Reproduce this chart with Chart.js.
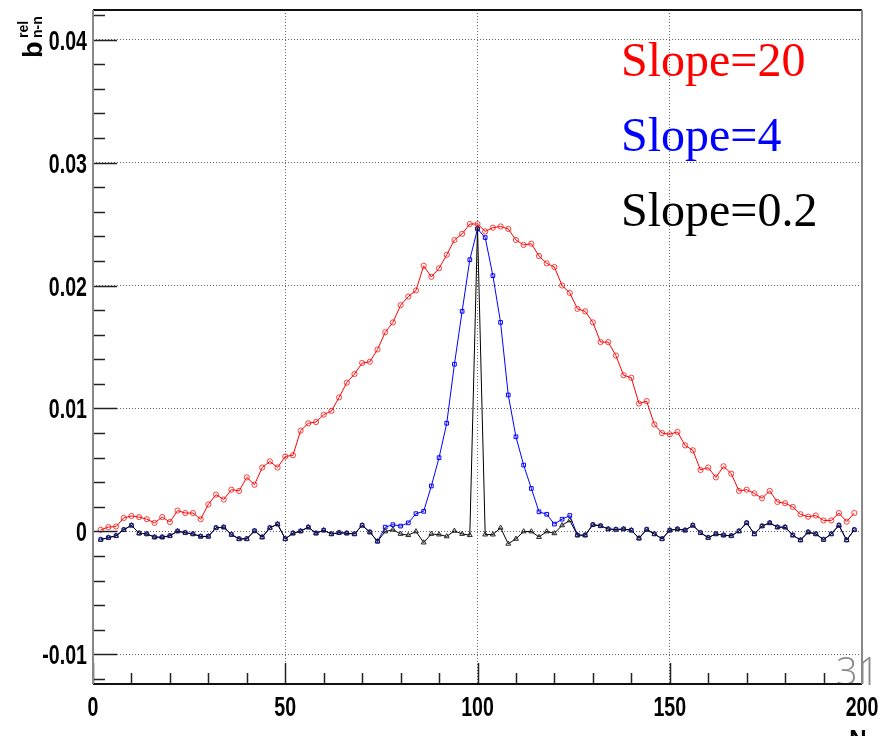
<!DOCTYPE html>
<html>
<head>
<meta charset="utf-8">
<script src="https://cdn.jsdelivr.net/npm/chart.js@4.4.1/dist/chart.umd.min.js"></script>
<style>
html, body { margin: 0; padding: 0; background: #fff; }
#chart { display: block; }
</style>
</head>
<body>
<canvas id="chart" width="887" height="736"></canvas>
<script>
// N values (every 2)
const nValues = [
    2, 4, 6, 8, 10, 12, 14, 16, 18, 20,
    22, 24, 26, 28, 30, 32, 34, 36, 38, 40,
    42, 44, 46, 48, 50, 52, 54, 56, 58, 60,
    62, 64, 66, 68, 70, 72, 74, 76, 78, 80,
    82, 84, 86, 88, 90, 92, 94, 96, 98, 100,
    102, 104, 106, 108, 110, 112, 114, 116, 118, 120,
    122, 124, 126, 128, 130, 132, 134, 136, 138, 140,
    142, 144, 146, 148, 150, 152, 154, 156, 158, 160,
    162, 164, 166, 168, 170, 172, 174, 176, 178, 180,
    182, 184, 186, 188, 190, 192, 194, 196, 198
];

// Slope=20
const slope20 = [
    0.00014, 0.00036, 0.0004, 0.0011, 0.00126, 0.00117, 0.001, 0.0007, 0.00117, 0.00077,
    0.0017, 0.0015, 0.0015, 0.001, 0.0022, 0.003, 0.0026, 0.0034, 0.0033, 0.0044,
    0.0038, 0.0052, 0.0057, 0.0052, 0.0061, 0.0062, 0.0082, 0.0088, 0.0089, 0.0095,
    0.0098, 0.0109, 0.0121, 0.0128, 0.0137, 0.0138, 0.0148, 0.0162, 0.017, 0.0184,
    0.0191, 0.0196, 0.0216, 0.0207, 0.0214, 0.0225, 0.0237, 0.0242, 0.025, 0.025,
    0.0244, 0.0247, 0.0248, 0.0246, 0.0237, 0.0233, 0.0234, 0.0224, 0.0218, 0.0215,
    0.02, 0.0194, 0.0181, 0.0179, 0.017, 0.0154, 0.0154, 0.0143, 0.0127, 0.0125,
    0.0104, 0.0106, 0.0087, 0.008, 0.0079, 0.0081, 0.007, 0.0066, 0.005, 0.0052,
    0.0044, 0.0053, 0.0047, 0.0033, 0.0034, 0.0031, 0.0027, 0.0033, 0.0024, 0.0023,
    0.002, 0.0014, 0.0012, 0.0013, 0.0009, 0.0009, 0.0015, 0.0008, 0.0015
];

// Slope=4
const slope4 = [
    -0.00066, -0.0005, -0.00035, 0.00014, 0.0005, -0.00014, -0.0002, -0.00046, -0.00046, -0.00035,
    0.00003, -0.0001, -0.0002, -0.0004, -0.0004, 0.0003, 0.00035, -0.00025, -0.0006, -0.0006,
    0.00005, -0.00046, 0.0003, 0.0006, -0.0006, -0.00014, 0.00003, 0.00035, -0.00014, 0.0001,
    -0.0002, -0.0001, -0.00014, -0.0002, 0.0005, -0.00005, -0.0008, 0.00035, 0.00055, 0.00044,
    0.0007, 0.00145, 0.00164, 0.0037, 0.006, 0.0088, 0.0136, 0.0179, 0.0221, 0.0246,
    0.0239, 0.0208, 0.017, 0.0111, 0.0077, 0.0054, 0.0035, 0.0016, 0.0014, 0.0006,
    0.001, 0.0013, -0.0003, -0.0003, 0.00055, 0.00046, 0.0002, 0.00016, 0.0002, 0.0001,
    -0.00055, 0.00016, -0.0002, -0.0006, 0.0001, 0.0002, 0.0001, 0.0005, -0.0001, -0.0005,
    -0.0002, -0.0003, -0.00035, 0.00003, 0.0007, -0.0002, 0.00044, 0.0007, 0.00035, 0.00035,
    -0.0003, -0.0007, -0.00005, -0.0002, -0.00066, -0.0002, 0.0005, -0.0007, 0.00014
];

// Slope=0.2
const slope02 = [
    -0.00066, -0.0005, -0.00035, 0.00014, 0.0005, -0.00014, -0.0002, -0.00046, -0.00046, -0.00035,
    0.00003, -0.0001, -0.0002, -0.0004, -0.0004, 0.0003, 0.00035, -0.00025, -0.0006, -0.0006,
    0.00005, -0.00046, 0.0003, 0.0006, -0.0006, -0.00014, 0.00003, 0.00035, -0.00014, 0.0001,
    -0.0002, -0.0001, -0.00014, -0.0002, 0.0005, -0.00005, -0.0008, 0, 0.00014, -0.0002,
    -0.0003, 0, -0.0009, -0.0002, -0.00025, -0.0004, 0.00005, -0.0002, -0.0003, 0.0247,
    -0.00025, -0.00025, 0.0003, -0.001, -0.0006, 0, 0, -0.00045, 0, -0.00015,
    0.0005, 0.0009, -0.0003, -0.0003, 0.00055, 0.00046, 0.0002, 0.00016, 0.0002, 0.0001,
    -0.00055, 0.00016, -0.0002, -0.0006, 0.0001, 0.0002, 0.0001, 0.0005, -0.0001, -0.0005,
    -0.0002, -0.0003, -0.00035, 0.00003, 0.0007, -0.0002, 0.00044, 0.0007, 0.00035, 0.00035,
    -0.0003, -0.0007, -0.00005, -0.0002, -0.00066, -0.0002, 0.0005, -0.0007, 0.00014
];

const xTicks = [0, 50, 100, 150, 200];
const xMinorTicks = [10, 20, 30, 40, 60, 70, 80, 90, 110, 120, 130, 140, 160, 170, 180, 190];
const yTicks = [-0.01, 0, 0.01, 0.02, 0.03, 0.04];
const yMinorTicks = [-0.012, -0.008, -0.006, -0.004, -0.002, 0.002, 0.004, 0.006, 0.008,
    0.012, 0.014, 0.016, 0.018, 0.022, 0.024, 0.026, 0.028, 0.032, 0.034, 0.036, 0.038, 0.042];

const seriesLabels = ['Slope=20', 'Slope=4', 'Slope=0.2'];

function toPoints(vals) {
    return nValues.map((n, i) => ({ x: n, y: vals[i] }));
}

function yLabel(v) {
    return String(Number(v.toFixed(3)));
}

// ROOT uses a narrow bold helvetica for the axis numbers
function narrowText(ctx, txt, px, py, align) {
    ctx.save();
    ctx.translate(px, py);
    ctx.scale(0.7, 1);
    ctx.textAlign = align;
    ctx.fillText(txt, 0, 0);
    ctx.restore();
}

// frame, inner tick marks, tick labels and the texts
const rootDecor = {
    id: 'rootDecor',
    afterDraw(chart) {
        const { ctx, chartArea: a, scales: { x, y } } = chart;
        ctx.save();

        ctx.strokeStyle = '#222';
        ctx.lineWidth = 1.5;
        ctx.beginPath();
        yTicks.forEach(v => {
            const py = Math.round(y.getPixelForValue(v)) + 0.5;
            ctx.moveTo(a.left, py); ctx.lineTo(a.left + 24, py);
        });
        yMinorTicks.forEach(v => {
            const py = Math.round(y.getPixelForValue(v)) + 0.5;
            ctx.moveTo(a.left, py); ctx.lineTo(a.left + 12, py);
        });
        xTicks.forEach(v => {
            const px = Math.round(x.getPixelForValue(v)) + 0.5;
            ctx.moveTo(px, a.bottom); ctx.lineTo(px, a.bottom - 21);
        });
        xMinorTicks.forEach(v => {
            const px = Math.round(x.getPixelForValue(v)) + 0.5;
            ctx.moveTo(px, a.bottom); ctx.lineTo(px, a.bottom - 11);
        });
        ctx.stroke();

        // tick labels
        ctx.fillStyle = '#000';
        ctx.font = "bold 28px 'Liberation Sans', Arial, sans-serif";
        ctx.textBaseline = 'alphabetic';
        yTicks.forEach(v => {
            narrowText(ctx, yLabel(v), a.left - 6, y.getPixelForValue(v) + 10, 'right');
        });
        xTicks.forEach(v => {
            narrowText(ctx, String(v), x.getPixelForValue(v), a.bottom + 32, 'center');
        });

        // page number
        ctx.fillStyle = '#8a8a8a';
        ctx.font = "300 38px 'Open Sans', 'DejaVu Sans', sans-serif";
        ctx.textAlign = 'left';
        ctx.fillText('31', 836, 685);

        // frame
        ctx.lineWidth = 2;
        ctx.strokeStyle = '#111';
        ctx.beginPath();
        ctx.moveTo(a.left, a.top); ctx.lineTo(a.right, a.top);
        ctx.moveTo(a.left, a.bottom); ctx.lineTo(a.right, a.bottom);
        ctx.stroke();
        ctx.strokeStyle = '#888';
        ctx.beginPath();
        ctx.moveTo(a.left, a.top); ctx.lineTo(a.left, a.bottom);
        ctx.moveTo(a.right, a.top); ctx.lineTo(a.right, a.bottom);
        ctx.stroke();

        // series labels
        const colors = ['#ff0000', '#0000ff', '#000000'];
        ctx.font = "48px 'Liberation Serif', 'DejaVu Serif', serif";
        seriesLabels.forEach((t, i) => {
            ctx.fillStyle = colors[i];
            ctx.fillText(t, 621, 76 + i * 75);
        });

        // axis titles
        ctx.fillStyle = '#000';
        ctx.font = "bold 24px 'Liberation Sans', sans-serif";
        ctx.textAlign = 'center';
        ctx.fillText('N', 858, 747);

        ctx.translate(42, 58);
        ctx.rotate(-Math.PI / 2);
        ctx.textAlign = 'left';
        ctx.font = "bold 27px 'Liberation Sans', sans-serif";
        ctx.fillText('b', 0, 0);
        ctx.font = "bold 14px 'Liberation Sans', sans-serif";
        ctx.fillText('rel', 20, -14);
        ctx.fillText('n-n', 20, 0);

        ctx.restore();
    }
};

new Chart(document.getElementById('chart'), {
    type: 'scatter',
    data: {
        datasets: [
            {
                label: seriesLabels[0],
                data: toPoints(slope20),
                showLine: true,
                borderColor: '#ff0000',
                borderWidth: 1,
                pointStyle: 'circle',
                pointRadius: 2.6,
                pointBorderWidth: 1,
                pointBackgroundColor: 'rgba(255,255,255,0)',
                pointBorderColor: 'rgba(255,0,0,0.75)',
                order: 0
            },
            {
                label: seriesLabels[2],
                data: toPoints(slope02),
                showLine: true,
                borderColor: '#000000',
                borderWidth: 1,
                pointStyle: 'triangle',
                pointRadius: 2.8,
                pointBorderWidth: 1,
                pointBackgroundColor: 'rgba(255,255,255,0)',
                pointBorderColor: '#222',
                order: 1
            },
            {
                label: seriesLabels[1],
                data: toPoints(slope4),
                showLine: true,
                borderColor: '#0000ff',
                borderWidth: 1,
                pointStyle: 'rect',
                pointRadius: 2.6,
                pointBorderWidth: 1,
                pointBackgroundColor: 'rgba(255,255,255,0)',
                pointBorderColor: '#0000ff',
                order: 2
            }
        ]
    },
    options: {
        responsive: false,
        animation: false,
        events: [],
        layout: { padding: { left: 0, right: 25, top: 10, bottom: 0 } },
        plugins: {
            legend: { display: false },
            tooltip: { enabled: false }
        },
        scales: {
            x: {
                type: 'linear',
                min: 0,
                max: 200,
                afterBuildTicks: axis => { axis.ticks = xTicks.map(v => ({ value: v })); },
                afterFit: axis => { axis.height = 52; axis.paddingLeft = 0; axis.paddingRight = 0; },
                grid: { color: '#666', lineWidth: 1, drawTicks: false },
                border: { display: false, dash: [1, 2] },
                ticks: { display: false }
            },
            y: {
                type: 'linear',
                min: -0.0124,
                max: 0.0424,
                afterBuildTicks: axis => { axis.ticks = yTicks.map(v => ({ value: v })); },
                afterFit: axis => { axis.width = 93; axis.paddingTop = 0; axis.paddingBottom = 0; },
                grid: { color: '#666', lineWidth: 1, drawTicks: false },
                border: { display: false, dash: [1, 2] },
                ticks: { display: false }
            }
        }
    },
    plugins: [rootDecor]
});
</script>
</body>
</html>
